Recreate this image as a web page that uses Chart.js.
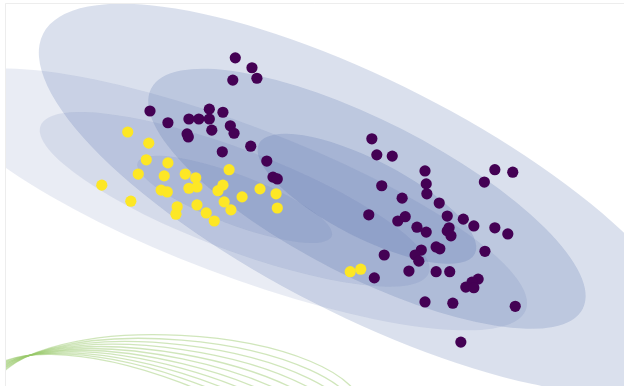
<!DOCTYPE html>
<html>
<head>
<meta charset="utf-8">
<script src="https://cdn.jsdelivr.net/npm/chart.js@4.4.1/dist/chart.umd.min.js"></script>
<style>
  html, body { margin: 0; padding: 0; background: #ffffff; }
  #wrap { width: 624px; height: 386px; }
</style>
</head>
<body>
<div id="wrap"><canvas id="c" width="624" height="386"></canvas></div>
<script>
// Cluster memberships (x, y) in plot units
const clusterA = [
  [3.71,5.31],[3.98,5.15],[4.06,4.98],[3.67,4.95],[2.33,4.45],[2.62,4.26],[2.96,4.32],
  [3.12,4.32],[3.29,4.48],[3.29,4.32],[3.51,4.43],[3.63,4.21],[3.69,4.09],[3.33,4.14],
  [2.93,4.08],[2.95,4.03],[3.96,3.88],[3.50,3.79],[4.22,3.64],[4.32,3.38],[4.39,3.35],
  [5.92,4.00],[6.00,3.74],[6.25,3.72],[6.78,3.48],[6.80,3.27],[6.81,3.11],[6.08,3.24],
  [7.74,3.30],[7.91,3.50],[8.20,3.46],[6.41,3.04],[7.01,2.96],[5.87,2.77],[6.34,2.67],
  [6.46,2.74],[6.65,2.57],[6.80,2.49],[7.14,2.75],[7.40,2.70],[7.57,2.59],[7.91,2.56],
  [8.12,2.46],[7.17,2.56],[7.14,2.51],[7.20,2.43],[6.96,2.25],[7.02,2.22],[6.72,2.20],
  [6.62,2.12],[6.68,2.02],[7.75,2.18],[6.12,2.12],[6.52,1.86],[6.96,1.85],[7.18,1.85],
  [5.96,1.75],[7.64,1.73],[7.54,1.68],[7.44,1.60],[7.57,1.59],[6.78,1.36],[7.23,1.34],
  [8.24,1.29],[7.36,0.71]
];
const clusterB = [
  [1.97,4.11],[2.31,3.93],[2.27,3.66],[2.62,3.61],[2.14,3.43],[2.56,3.40],[2.90,3.43],
  [3.07,3.37],[3.61,3.50],[1.55,3.25],[2.51,3.17],[2.61,3.14],[2.96,3.20],[3.09,3.22],
  [3.51,3.25],[3.43,3.16],[3.82,3.06],[2.02,2.99],[3.53,2.98],[3.64,2.85],[3.09,2.93],
  [3.24,2.80],[2.77,2.90],[2.75,2.78],[3.37,2.67],[4.11,3.19],[4.37,3.11],[4.39,2.88],
  [5.57,1.85],[5.74,1.89]
];

// Fitted mixture components: means, 1-sigma semi-axes, orientation (deg) and weight-based alpha
const compMeans  = [[5.84, 3.03], [3.70, 3.02]];
const compAxes   = [[1.96, 0.63], [1.68, 0.405]];
const compAngles = [-27, -20.8];
const compAlpha  = [0.20, 0.12];
const sigmaLevels = [1, 2, 3];

// Faint background contour family: one base ellipse turned step by step about a pivot
const arcCenter = [2.78, -0.24];
const arcAxes   = [2.98, 1.06];
const arcTilt   = -2.94;
const arcPivot  = [0.39, 0.49];
const arcTurns  = [0, 0.031, 0.062, 0.093, 0.124, 0.155, 0.186, 0.217, 0.248, 0.279, 0.31];

const ellipsePlugin = {
  id: 'gmmEllipses',
  beforeDatasetsDraw(chart) {
    const { ctx, chartArea, scales: { x, y } } = chart;
    const unit = x.getPixelForValue(1) - x.getPixelForValue(0);
    ctx.save();

    // axes frame (very light)
    ctx.strokeStyle = 'rgba(225,225,225,0.6)';
    ctx.lineWidth = 1;
    ctx.beginPath();
    ctx.moveTo(chartArea.left - 0.5, chartArea.bottom);
    ctx.lineTo(chartArea.left - 0.5, chartArea.top - 0.5);
    ctx.lineTo(chartArea.right, chartArea.top - 0.5);
    ctx.stroke();

    ctx.beginPath();
    ctx.rect(chartArea.left, chartArea.top, chartArea.width, chartArea.height);
    ctx.clip();

    // background contour family
    const px = x.getPixelForValue(arcPivot[0]), py = y.getPixelForValue(arcPivot[1]);
    const ax = x.getPixelForValue(arcCenter[0]), ay = y.getPixelForValue(arcCenter[1]);
    ctx.strokeStyle = 'rgba(150,200,105,0.45)';
    ctx.lineWidth = 1.3;
    arcTurns.forEach(t => {
      ctx.save();
      ctx.translate(px, py);
      ctx.rotate(t);
      ctx.translate(-px, -py);
      ctx.beginPath();
      ctx.ellipse(ax, ay, arcAxes[0] * unit, arcAxes[1] * unit, -arcTilt * Math.PI / 180, 0, Math.PI * 2);
      ctx.stroke();
      ctx.restore();
    });

    // mixture component ellipses
    compMeans.forEach((m, i) => {
      const cx = x.getPixelForValue(m[0]);
      const cy = y.getPixelForValue(m[1]);
      ctx.fillStyle = `rgba(70,100,165,${compAlpha[i]})`;
      sigmaLevels.forEach(k => {
        ctx.beginPath();
        ctx.ellipse(cx, cy, k * compAxes[i][0] * unit, k * compAxes[i][1] * unit,
                    -compAngles[i] * Math.PI / 180, 0, Math.PI * 2);
        ctx.fill();
      });
    });
    ctx.restore();
  }
};

const toPts = arr => arr.map(p => ({ x: p[0], y: p[1] }));

new Chart(document.getElementById('c'), {
  type: 'scatter',
  data: {
    datasets: [
      { data: toPts(clusterA), backgroundColor: '#440154', borderWidth: 0, pointRadius: 5.6, pointHoverRadius: 5.6 },
      { data: toPts(clusterB), backgroundColor: '#fde725', borderWidth: 0, pointRadius: 5.6, pointHoverRadius: 5.6 }
    ]
  },
  options: {
    responsive: false,
    animation: false,
    layout: { autoPadding: false, padding: { left: 6, top: 4, right: 0, bottom: 0 } },
    plugins: { legend: { display: false }, tooltip: { enabled: false } },
    scales: {
      x: { type: 'linear', min: 0, max: 10, display: false },
      y: { type: 'linear', min: 0, max: 382 / 61.8, display: false }
    }
  },
  plugins: [ellipsePlugin]
});
</script>
</body>
</html>
